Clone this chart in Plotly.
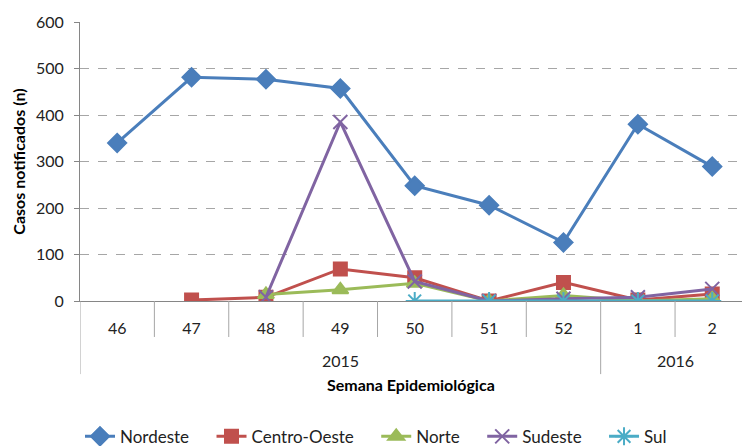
import plotly.graph_objects as go

weeks = ["46", "47", "48", "49", "50", "51", "52", "1", "2"]
years = ["2015", "2016"]
year_spans = [(0, 6), (7, 8)]  # index of first and last week in each year

nordeste = [340, 481, 477, 457, 248, 206, 126, 380, 289]
centro_oeste = [None, 2, 8, 69, 50, 0, 40, 2, 15]
norte = [None, None, 14, 24, 38, 0, 12, 0, 5]
sudeste = [None, None, 8, 385, 42, 0, 5, 8, 26]
sul = [None, None, None, None, 0, 0, 0, 0, 0]

series = [
    ("Nordeste", nordeste, "#4A7EBB", "diamond", 14),
    ("Centro-Oeste", centro_oeste, "#C0504D", "square", 13),
    ("Norte", norte, "#9BBB59", "triangle-up", 14),
    ("Sudeste", sudeste, "#8064A2", "x-thin", 14),
    ("Sul", sul, "#4BACC6", "asterisk", 15),
]

PAD = "\u00a0" * 4
fig = go.Figure()
for k, (name, vals, color, sym, size) in enumerate(series):
    label = name + (PAD if k < len(series) - 1 else "")
    fig.add_trace(go.Scatter(
        x=weeks, y=vals, name=label, mode="lines+markers",
        line=dict(color=color, width=3),
        marker=dict(symbol=sym, size=size, color=color,
                    line=dict(color=color, width=2)),
        connectgaps=False,
    ))

GRAY = "#A6A6A6"
group_starts = [a for a, _ in year_spans]
# short separators between weeks
for i in range(1, len(weeks)):
    if i in group_starts:
        continue
    fig.add_shape(type="line", xref="x", yref="paper", x0=i - 0.5, x1=i - 0.5,
                  y0=0, y1=-0.129, line=dict(color=GRAY, width=1))
# year group dividers and labels
for (a, b), yr in zip(year_spans, years):
    fig.add_shape(type="line", xref="x", yref="paper", x0=a - 0.5, x1=a - 0.5,
                  y0=0, y1=-0.262, line=dict(color=GRAY, width=1))
    fig.add_annotation(x=(a + b) / 2, xref="x", y=-0.215, yref="paper",
                       text=yr, showarrow=False, yanchor="middle",
                       font=dict(size=16, color="#222222"))

fig.add_annotation(x=0.5, xref="paper", y=-0.301, yref="paper",
                   text="<b>Semana Epidemiológica</b>", showarrow=False,
                   yanchor="middle", font=dict(size=16, color="#000000"))

font = "Lato, 'Open Sans', sans-serif"
fig.update_layout(
    width=742, height=446,
    margin=dict(l=80, r=0, t=22, b=145, autoexpand=False),
    paper_bgcolor="white", plot_bgcolor="white",
    font=dict(family=font, size=16, color="#222222"),
    showlegend=True,
    legend=dict(orientation="h", x=0.0, xanchor="left", y=0.061, yref="container",
                yanchor="top", font=dict(size=17, color="#222222"),
                traceorder="normal"),
    yaxis=dict(range=[0, 600], dtick=100, showgrid=True, gridcolor=GRAY,
               griddash="dash", gridwidth=1, zeroline=False, showline=True,
               linecolor="#868686", linewidth=1, ticks="outside", ticklen=5,
               tickcolor="#868686", tickfont=dict(size=16, color="#222222"),
               automargin=False, ticklabelstandoff=7,
               title=dict(text="<b>Casos notificados (n)</b>",
                          font=dict(size=16, color="#000000"), standoff=6)),
    xaxis=dict(type="category", range=[-0.5, 8.4], showline=True,
               linecolor="#868686", linewidth=1,
               ticks="outside", ticklen=13, tickcolor="rgba(0,0,0,0)",
               showgrid=False, automargin=False,
               tickfont=dict(size=16, color="#222222")),
)
fig.write_html("out.html", config={"displayModeBar": False},
               post_script="document.body.style.margin='0';document.body.style.overflow='hidden';")
